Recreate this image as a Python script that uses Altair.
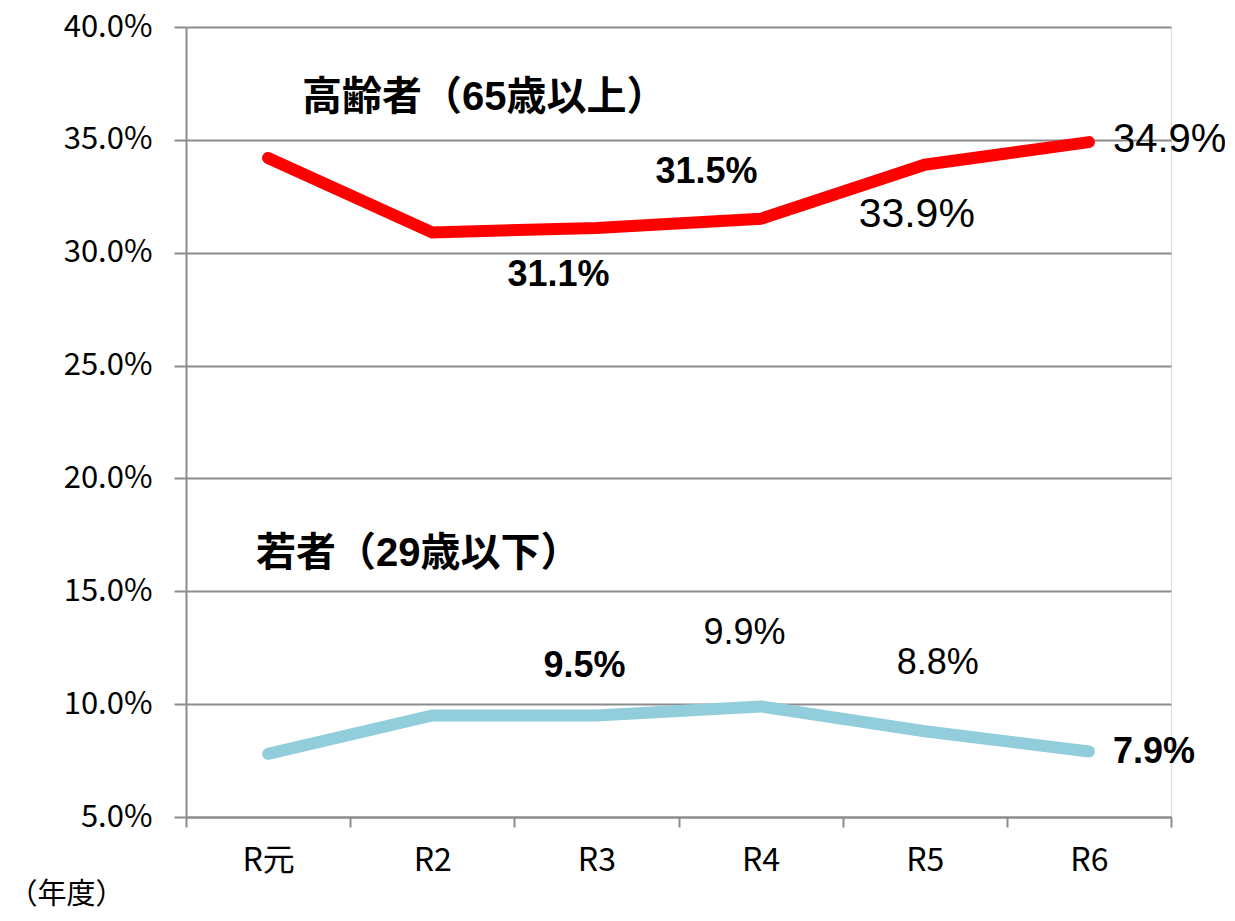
import altair as alt
import pandas as pd

# ---- data ----
years = ["R元", "R2", "R3", "R4", "R5", "R6"]
elderly = [34.2, 30.9, 31.1, 31.5, 33.9, 34.9]
youth = [7.8, 9.5, 9.5, 9.9, 8.8, 7.9]
series_names = ["高齢者（65歳以上）", "若者（29歳以下）"]
series_colors = ["#FF0000", "#92CDDC"]
y_ticks = [5, 10, 15, 20, 25, 30, 35, 40]
x_title = "（年度）"

rows = []
for yr, e, w in zip(years, elderly, youth):
    rows.append({"year": yr, "series": series_names[0], "value": e})
    rows.append({"year": yr, "series": series_names[1], "value": w})
df = pd.DataFrame(rows)
df["label"] = df["value"].map(lambda v: f"{v:.1f}%")

GRAY = "#8c8c8c"
LABEL_FONT = "Liberation Sans, Arial, Noto Sans CJK JP"
TICK_FONT = "Noto Sans CJK JP"

x_enc = alt.X(
    "year:N", sort=years,
    scale=alt.Scale(type="band", domain=years, paddingInner=0, paddingOuter=0),
    axis=alt.Axis(
        title=x_title, titleFont=TICK_FONT, titleFontSize=29, titleFontWeight="normal",
        titleColor="black", titleAnchor="start", titleAlign="left", titleBaseline="middle",
        titleX=-178, titleY=77, labelAngle=0, labelFont=TICK_FONT, labelFontSize=32,
        labelColor="black", labelPadding=18, tickBand="extent", tickSize=10,
        tickColor=GRAY, tickWidth=2, domainColor=GRAY, domainWidth=2, grid=False,
    ),
)
y_enc = alt.Y(
    "value:Q",
    scale=alt.Scale(domain=[5, 40], nice=False, zero=False),
    axis=alt.Axis(
        title=None, values=y_ticks, labelExpr="format(datum.value, '.1f') + '%'",
        labelFont=TICK_FONT, labelFontSize=31, labelColor="black", labelPadding=22,
        tickSize=12, tickColor=GRAY, tickWidth=2, domainColor=GRAY, domainWidth=2,
        grid=True, gridColor=GRAY, gridWidth=2,
    ),
)
color_enc = alt.Color("series:N", scale=alt.Scale(domain=series_names, range=series_colors), legend=None)

base = alt.Chart(df)
lines = base.mark_line(strokeWidth=12, strokeCap="round", strokeJoin="miter").encode(
    x=x_enc, y=y_enc, color=color_enc, detail="series:N"
)

# label styling: (year, series index, dx, dy, fontSize, fontWeight, align)
label_styles = [
    ("R3", 0, -38, 47, 36, "bold", "center"),
    ("R4", 0, -54, -47, 36, "bold", "center"),
    ("R5", 0, -8, 50, 41, "normal", "center"),
    ("R6", 0, 24, -2, 40, "normal", "left"),
    ("R3", 1, -12, -49, 36, "bold", "center"),
    ("R4", 1, -16, -73, 36, "normal", "center"),
    ("R5", 1, 13, -68, 36, "normal", "center"),
    ("R6", 1, 24, 0, 36, "bold", "left"),
]
layers = [lines]
for yr, si, dx, dy, fs, fw, al in label_styles:
    sel = df[(df["year"] == yr) & (df["series"] == series_names[si])]
    layers.append(
        alt.Chart(sel).mark_text(
            dx=dx, dy=dy, fontSize=fs, fontWeight=fw, align=al, baseline="middle",
            font=LABEL_FONT, color="black",
        ).encode(x=alt.X("year:N", sort=years), y="value:Q", text="label:N")
    )

# series annotations
ann_values = [36.85, 16.63]
ann_dx = [34, -12]
for name, v, dx in zip(series_names, ann_values, ann_dx):
    ann = pd.DataFrame({"year": [years[0]], "value": [v], "text": [name]})
    layers.append(
        alt.Chart(ann).mark_text(
            dx=dx, fontSize=40, fontWeight="bold", align="left", baseline="middle",
            font=LABEL_FONT, color="black",
        ).encode(x=alt.X("year:N", sort=years), y="value:Q", text="text:N")
    )

chart = alt.layer(*layers).properties(
    width=985, height=790,
    autosize=alt.AutoSizeParams(type="none"),
    padding={"left": 178, "top": 19, "right": 54, "bottom": 96},
).configure_view(strokeWidth=0).configure(background="white")

chart.save("out.html", embed_options={"renderer": "svg", "actions": False})
